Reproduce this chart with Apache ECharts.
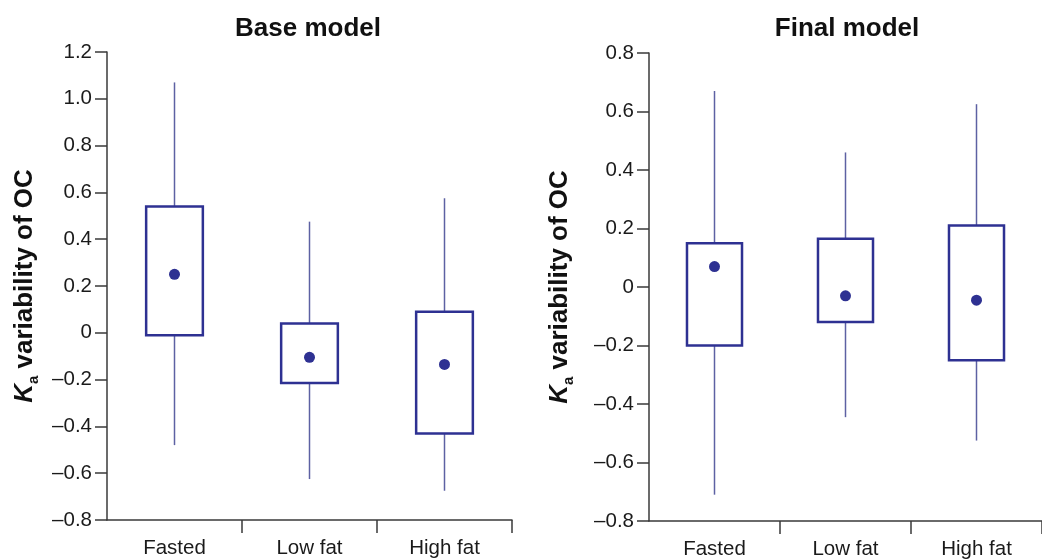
<!DOCTYPE html>
<html>
<head>
<meta charset="utf-8">
<script src="https://cdn.jsdelivr.net/npm/echarts@6/dist/echarts.min.js"></script>
<style>
html,body{margin:0;padding:0;background:#fff;}
#chart{width:1042px;height:559px;}
</style>
</head>
<body>
<div id="chart"></div>
<script>
// ---- data ----
const categories = ['Fasted', 'Low fat', 'High fat'];
const baseLow  = [-0.48, -0.625, -0.675];
const baseQ1   = [-0.01, -0.215, -0.43];
const baseQ3   = [0.54, 0.04, 0.09];
const baseHigh = [1.07, 0.475, 0.575];
const baseMean = [0.25, -0.105, -0.135];

const finalLow  = [-0.71, -0.445, -0.525];
const finalQ1   = [-0.20, -0.12, -0.25];
const finalQ3   = [0.15, 0.165, 0.21];
const finalHigh = [0.67, 0.46, 0.625];
const finalMean = [0.07, -0.03, -0.045];

const baseTicks = {min: -0.8, max: 1.2, interval: 0.2};
const finalTicks = {min: -0.8, max: 0.8, interval: 0.2};

// ---- styles ----
const FONT = 'Liberation Sans, Arial, sans-serif';
const boxColor = '#2e3192';
const whiskerColor = '#5d61a3';
const axisColor = '#3a3a3a';

function boxData(lo, q1, q3, hi) {
  return categories.map((c, i) => [i, lo[i], q1[i], q3[i], hi[i]]);
}

function renderBox(params, api) {
  const x = api.value(0);
  const lo = api.coord([x, api.value(1)]);
  const q1 = api.coord([x, api.value(2)]);
  const q3 = api.coord([x, api.value(3)]);
  const hi = api.coord([x, api.value(4)]);
  const w = api.size([1, 0])[0] * 0.42;
  return {
    type: 'group',
    children: [
      {type: 'line', shape: {x1: lo[0], y1: lo[1], x2: q1[0], y2: q1[1]},
       style: {stroke: whiskerColor, lineWidth: 1.5}},
      {type: 'line', shape: {x1: q3[0], y1: q3[1], x2: hi[0], y2: hi[1]},
       style: {stroke: whiskerColor, lineWidth: 1.5}},
      {type: 'rect', shape: {x: q3[0] - w / 2, y: q3[1], width: w, height: q1[1] - q3[1]},
       style: {fill: '#fff', stroke: boxColor, lineWidth: 2.5}}
    ]
  };
}

function fmt(v) {
  if (Math.abs(v) < 1e-9) return '0';
  return v.toFixed(1).replace('-', '\u2013');
}

function xAxisDef(gridIndex) {
  return {
    type: 'category', gridIndex, data: categories, boundaryGap: true,
    axisLine: {onZero: false, lineStyle: {color: axisColor, width: 1.5}},
    axisTick: {show: true, length: 13, lineStyle: {color: axisColor, width: 1.5},
               interval: function (idx) { return idx > 0; }},
    axisLabel: {color: '#1a1a1a', fontSize: 20.5, fontFamily: FONT, margin: 18},
    splitLine: {show: false}
  };
}

function yAxisDef(gridIndex, t, gap) {
  return {
    type: 'value', gridIndex, min: t.min, max: t.max, interval: t.interval,
    axisLine: {show: true, onZero: false, lineStyle: {color: axisColor, width: 1.5}},
    axisTick: {show: true, inside: false, length: 12, lineStyle: {color: axisColor, width: 1.5}},
    axisLabel: {color: '#1a1a1a', fontSize: 20.5, fontFamily: FONT, margin: 15, formatter: fmt},
    splitLine: {show: false},
    name: '{k|K}{s|a} variability of OC',
    nameLocation: 'middle', nameRotate: 90, nameGap: gap,
    nameTextStyle: {
      fontSize: 26, fontWeight: 'bold', fontFamily: FONT, color: '#111', lineHeight: 32,
      rich: {
        k: {fontSize: 26, fontWeight: 'bold', fontStyle: 'italic', fontFamily: FONT, color: '#111', lineHeight: 32},
        s: {fontSize: 15, fontWeight: 'bold', fontFamily: FONT, color: '#111', verticalAlign: 'bottom', lineHeight: 15}
      }
    }
  };
}

const chart = echarts.init(document.getElementById('chart'), null, {renderer: 'canvas'});
chart.setOption({
  backgroundColor: '#fff',
  animation: false,
  title: [
    {text: 'Base model', left: 303, top: 11, textAlign: 'center',
     textStyle: {fontSize: 26, fontWeight: 'bold', fontFamily: FONT, color: '#111'}},
    {text: 'Final model', left: 842, top: 11, textAlign: 'center',
     textStyle: {fontSize: 26, fontWeight: 'bold', fontFamily: FONT, color: '#111'}}
  ],
  grid: [
    {left: 107, right: 530, top: 52, bottom: 39, containLabel: false, outerBoundsMode: 'none'},
    {left: 649, right: 0, top: 53, bottom: 38, containLabel: false, outerBoundsMode: 'none'}
  ],
  xAxis: [xAxisDef(0), xAxisDef(1)],
  yAxis: [yAxisDef(0, baseTicks, 66), yAxisDef(1, finalTicks, 73)],
  series: [
    {type: 'custom', xAxisIndex: 0, yAxisIndex: 0, renderItem: renderBox,
     encode: {x: 0, y: [1, 2, 3, 4]}, data: boxData(baseLow, baseQ1, baseQ3, baseHigh), z: 2},
    {type: 'scatter', xAxisIndex: 0, yAxisIndex: 0, symbol: 'circle', symbolSize: 11,
     itemStyle: {color: boxColor, opacity: 1}, data: baseMean, z: 3},
    {type: 'custom', xAxisIndex: 1, yAxisIndex: 1, renderItem: renderBox,
     encode: {x: 0, y: [1, 2, 3, 4]}, data: boxData(finalLow, finalQ1, finalQ3, finalHigh), z: 2},
    {type: 'scatter', xAxisIndex: 1, yAxisIndex: 1, symbol: 'circle', symbolSize: 11,
     itemStyle: {color: boxColor, opacity: 1}, data: finalMean, z: 3}
  ]
});
</script>
</body>
</html>
